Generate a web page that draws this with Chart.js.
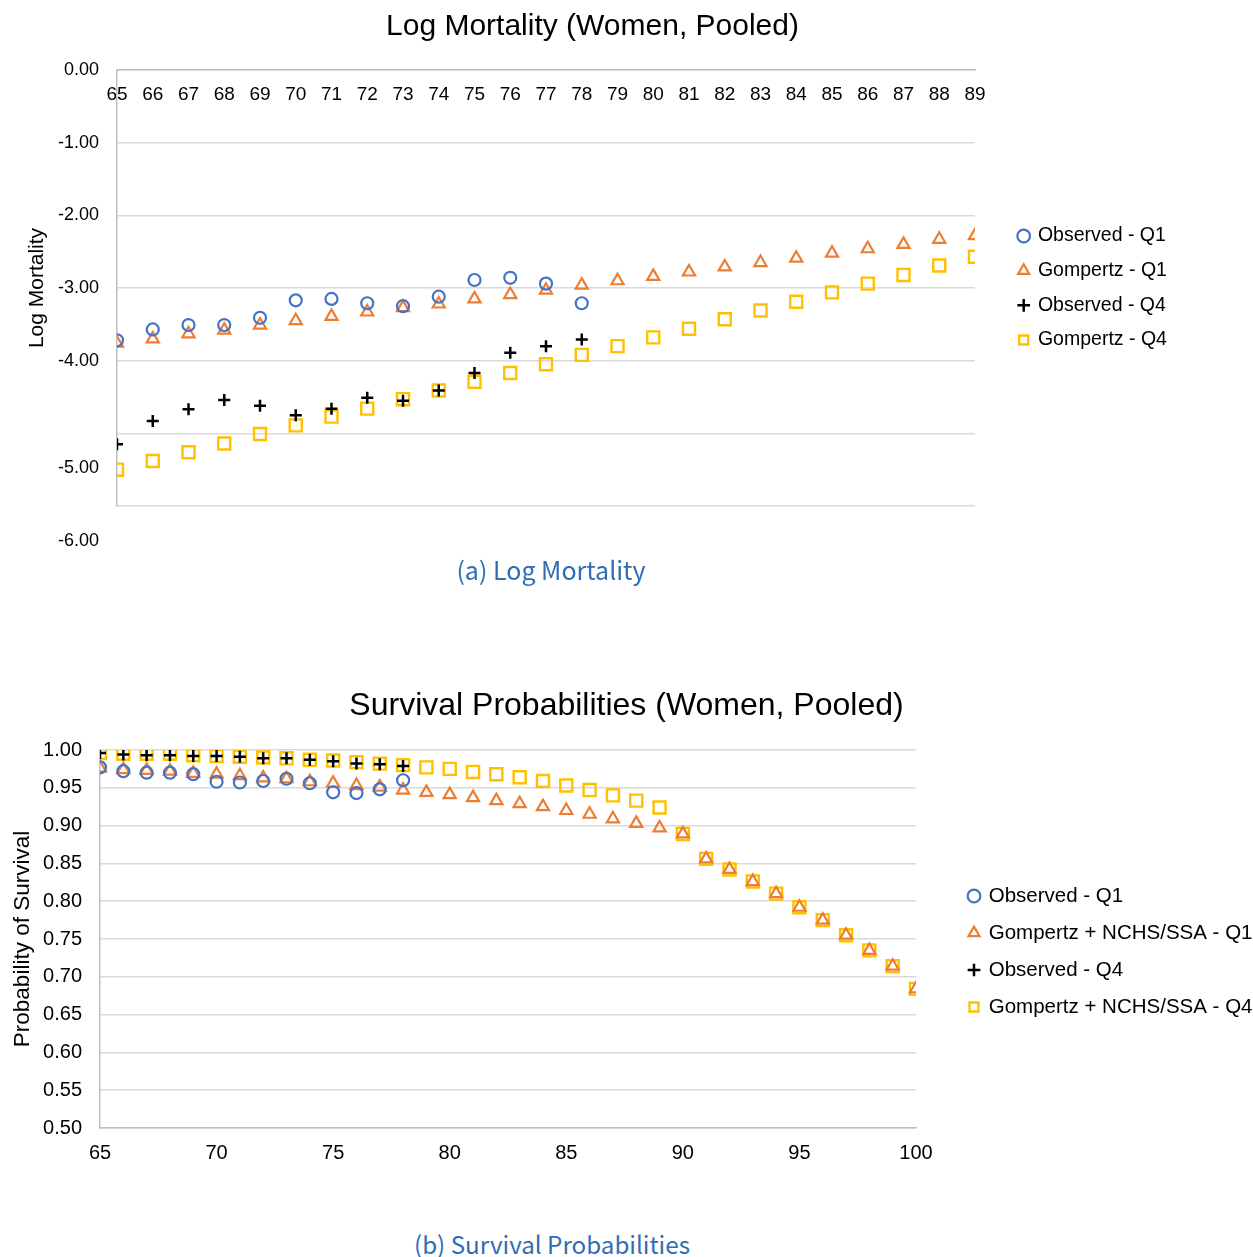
<!DOCTYPE html>
<html>
<head>
<meta charset="utf-8">
<script src="https://cdn.jsdelivr.net/npm/chart.js@4"></script>
<style>
  html, body { margin: 0; padding: 0; background: #fff; }
  body { width: 1253px; height: 1257px; position: relative; overflow: hidden; }
  .box { position: absolute; left: 0; }
  .cap { position: absolute; font-family: "Noto Sans CJK JP", "Noto Sans", sans-serif; color: #2f6db5; white-space: nowrap; transform: translate(-50%, -50%); }
</style>
</head>
<body>
<div class="box" style="top:0;width:1185px;height:594px;"><canvas id="c1"></canvas></div>
<div class="cap" style="left:551px;top:569px;font-size:25px;">(a) Log Mortality</div>
<div class="box" style="top:660px;width:1253px;height:528px;"><canvas id="c2"></canvas></div>
<div class="cap" style="left:552px;top:1243px;font-size:24.2px;">(b) Survival Probabilities</div>
<script>
// ---------- Data: Log Mortality (top) ----------
const agesLog = [65,66,67,68,69,70,71,72,73,74,75,76,77,78,79,80,81,82,83,84,85,86,87,88,89];
const agesLogObs = [65,66,67,68,69,70,71,72,73,74,75,76,77,78];
const logObsQ1 = [-3.72,-3.57,-3.51,-3.51,-3.41,-3.17,-3.15,-3.21,-3.25,-3.12,-2.89,-2.86,-2.94,-3.21];
const logGompQ1 = [-3.76,-3.70,-3.63,-3.58,-3.51,-3.45,-3.39,-3.33,-3.27,-3.22,-3.15,-3.09,-3.03,-2.96,-2.90,-2.84,-2.78,-2.71,-2.65,-2.59,-2.52,-2.46,-2.40,-2.33,-2.28];
const logObsQ4 = [-5.15,-4.83,-4.67,-4.54,-4.62,-4.75,-4.66,-4.51,-4.55,-4.41,-4.17,-3.89,-3.80,-3.71];
const logGompQ4 = [-5.50,-5.38,-5.26,-5.14,-5.01,-4.89,-4.77,-4.66,-4.53,-4.41,-4.29,-4.17,-4.05,-3.92,-3.80,-3.68,-3.56,-3.43,-3.31,-3.19,-3.06,-2.94,-2.82,-2.69,-2.57];
const logLabels = ['Observed - Q1','Gompertz - Q1','Observed - Q4','Gompertz - Q4'];

// ---------- Data: Survival Probabilities (bottom) ----------
const agesSurv = [65,66,67,68,69,70,71,72,73,74,75,76,77,78,79,80,81,82,83,84,85,86,87,88,89,90,91,92,93,94,95,96,97,98,99,100];
const agesSurvObs = [65,66,67,68,69,70,71,72,73,74,75,76,77,78];
const survObsQ1 = [0.977,0.972,0.970,0.970,0.968,0.958,0.957,0.959,0.962,0.956,0.944,0.943,0.948,0.960];
const survGompQ1 = [0.976,0.974,0.973,0.972,0.969,0.968,0.966,0.963,0.962,0.958,0.956,0.953,0.951,0.947,0.944,0.941,0.937,0.933,0.929,0.925,0.920,0.915,0.909,0.903,0.897,0.889,0.856,0.842,0.826,0.810,0.792,0.775,0.755,0.735,0.714,0.684];
const survObsQ4 = [0.996,0.994,0.993,0.993,0.992,0.992,0.991,0.989,0.989,0.987,0.985,0.982,0.981,0.979];
const survGompQ4 = [0.996,0.995,0.995,0.995,0.993,0.992,0.991,0.990,0.989,0.987,0.986,0.984,0.982,0.980,0.977,0.975,0.971,0.968,0.964,0.959,0.953,0.947,0.940,0.933,0.924,0.889,0.856,0.842,0.826,0.810,0.792,0.775,0.755,0.735,0.714,0.684];
const survLabels = ['Observed - Q1','Gompertz + NCHS/SSA - Q1','Observed - Q4','Gompertz + NCHS/SSA - Q4'];

const FONT = "'Liberation Sans', Arial, sans-serif";
const BLUE = '#4472C4', ORANGE = '#ED7D31', BLACK = '#000000', GOLD = '#FFC000';
const GRID = '#d9d9d9', AXIS = '#bfbfbf';

const pts = (xs, ys) => xs.map((x, i) => ({x, y: ys[i]}));

function ds(label, data, color, style, radius, bw) {
  return {
    label, data,
    pointStyle: style,
    pointRadius: radius,
    pointHoverRadius: radius,
    borderColor: color,
    backgroundColor: 'rgba(0,0,0,0)',
    pointBorderColor: color,
    pointBackgroundColor: 'rgba(0,0,0,0)',
    pointBorderWidth: bw,
    borderWidth: bw,
    showLine: false
  };
}

function makeSets(labels, xo, xa, a, b, c, d) {
  return [
    ds(labels[0], pts(xo, a), BLUE, 'circle', 6, 2.2),
    ds(labels[1], pts(xa, b), ORANGE, 'triangle', 7, 2.2),
    ds(labels[2], pts(xo, c), BLACK, 'cross', 6, 2.5),
    ds(labels[3], pts(xa, d), GOLD, 'rect', 8.5, 2.4)
  ];
}

// Moves the right-hand legend to a fixed left edge after layout
const legendPlace = {
  id: 'legendPlace',
  afterLayout(chart, args, opts) {
    const lg = chart.legend;
    if (lg && opts.left != null) {
      const w = lg.width;
      lg.left = opts.left;
      lg.right = opts.left + w;
    }
  }
};

Chart.defaults.font.family = FONT;
Chart.defaults.color = '#000';
Chart.defaults.animation = false;

// the two lowest labels of the log-mortality axis sit below their gridlines in the original
const lowTick = v => v <= -5;

// ---------- Top chart ----------
new Chart(document.getElementById('c1'), {
  type: 'scatter',
  data: { datasets: makeSets(logLabels, agesLogObs, agesLog, logObsQ1, logGompQ1, logObsQ4, logGompQ4) },
  plugins: [legendPlace],
  options: {
    responsive: true, maintainAspectRatio: false,
    layout: { padding: 0 },
    plugins: {
      title: { display: true, text: 'Log Mortality (Women, Pooled)', font: { size: 30, weight: 'normal' }, color: '#000', padding: { top: 9, bottom: 25 } },
      legend: {
        position: 'right', fullSize: false,
        labels: { usePointStyle: true, boxWidth: 9, boxHeight: 9, padding: 15.2, font: { size: 19.5 }, color: '#000' }
      },
      legendPlace: { left: 1004 },
      tooltip: { enabled: false }
    },
    scales: {
      x: {
        type: 'linear', min: 65, max: 89, position: { y: 0 },
        ticks: { stepSize: 1, autoSkip: false, font: { size: 19 }, padding: 13, color: '#000' },
        grid: { display: false, drawTicks: false },
        border: { display: true, color: AXIS, width: 1.5 }
      },
      y: {
        type: 'linear', min: -6, max: 0,
        afterFit: s => { s.width = 117; s.paddingRight = 210; },
        ticks: {
          stepSize: 1, autoSkip: false, padding: 18, color: '#000',
          font: c => (c.tick && lowTick(c.tick.value)) ? { size: 18, lineHeight: '70px' } : { size: 18 },
          callback: v => lowTick(v) ? ['', v.toFixed(2)] : v.toFixed(2)
        },
        grid: { color: GRID, lineWidth: 1.5, drawTicks: false },
        border: { display: true, color: AXIS, width: 1.5 },
        title: { display: true, text: 'Log Mortality', font: { size: 21 }, color: '#000', padding: { top: 25, bottom: 0 } }
      }
    }
  }
});

// ---------- Bottom chart ----------
new Chart(document.getElementById('c2'), {
  type: 'scatter',
  data: { datasets: makeSets(survLabels, agesSurvObs, agesSurv, survObsQ1, survGompQ1, survObsQ4, survGompQ4) },
  plugins: [legendPlace],
  options: {
    responsive: true, maintainAspectRatio: false,
    layout: { padding: { left: 0, right: 0, top: 0, bottom: 10 } },
    plugins: {
      title: { display: true, text: 'Survival Probabilities (Women, Pooled)', font: { size: 32, weight: 'normal' }, color: '#000', padding: { top: 27, bottom: 24.6 } },
      legend: {
        position: 'right', fullSize: false,
        title: { display: true, text: ' ', font: { size: 10 }, padding: 6.5 },
        labels: { usePointStyle: true, boxWidth: 9, boxHeight: 9, padding: 16.5, font: { size: 20.5 }, color: '#000' }
      },
      legendPlace: { left: 953 },
      tooltip: { enabled: false }
    },
    scales: {
      x: {
        type: 'linear', min: 65, max: 100, position: 'bottom',
        ticks: { stepSize: 5, font: { size: 20 }, padding: 13, color: '#000' },
        grid: { display: false, drawTicks: false },
        border: { display: true, color: AXIS, width: 1.5 }
      },
      y: {
        type: 'linear', min: 0.5, max: 1.0,
        afterFit: s => { s.width = 100; s.paddingRight = 337; },
        ticks: { stepSize: 0.05, autoSkip: false, font: { size: 20 }, padding: 18, color: '#000', callback: v => v.toFixed(2) },
        grid: { color: GRID, lineWidth: 1.5, drawTicks: false },
        border: { display: true, color: AXIS, width: 1.5 },
        title: { display: true, text: 'Probability of Survival', font: { size: 22.5 }, color: '#000', padding: { top: 9, bottom: 0 } }
      }
    }
  }
});
</script>
</body>
</html>
